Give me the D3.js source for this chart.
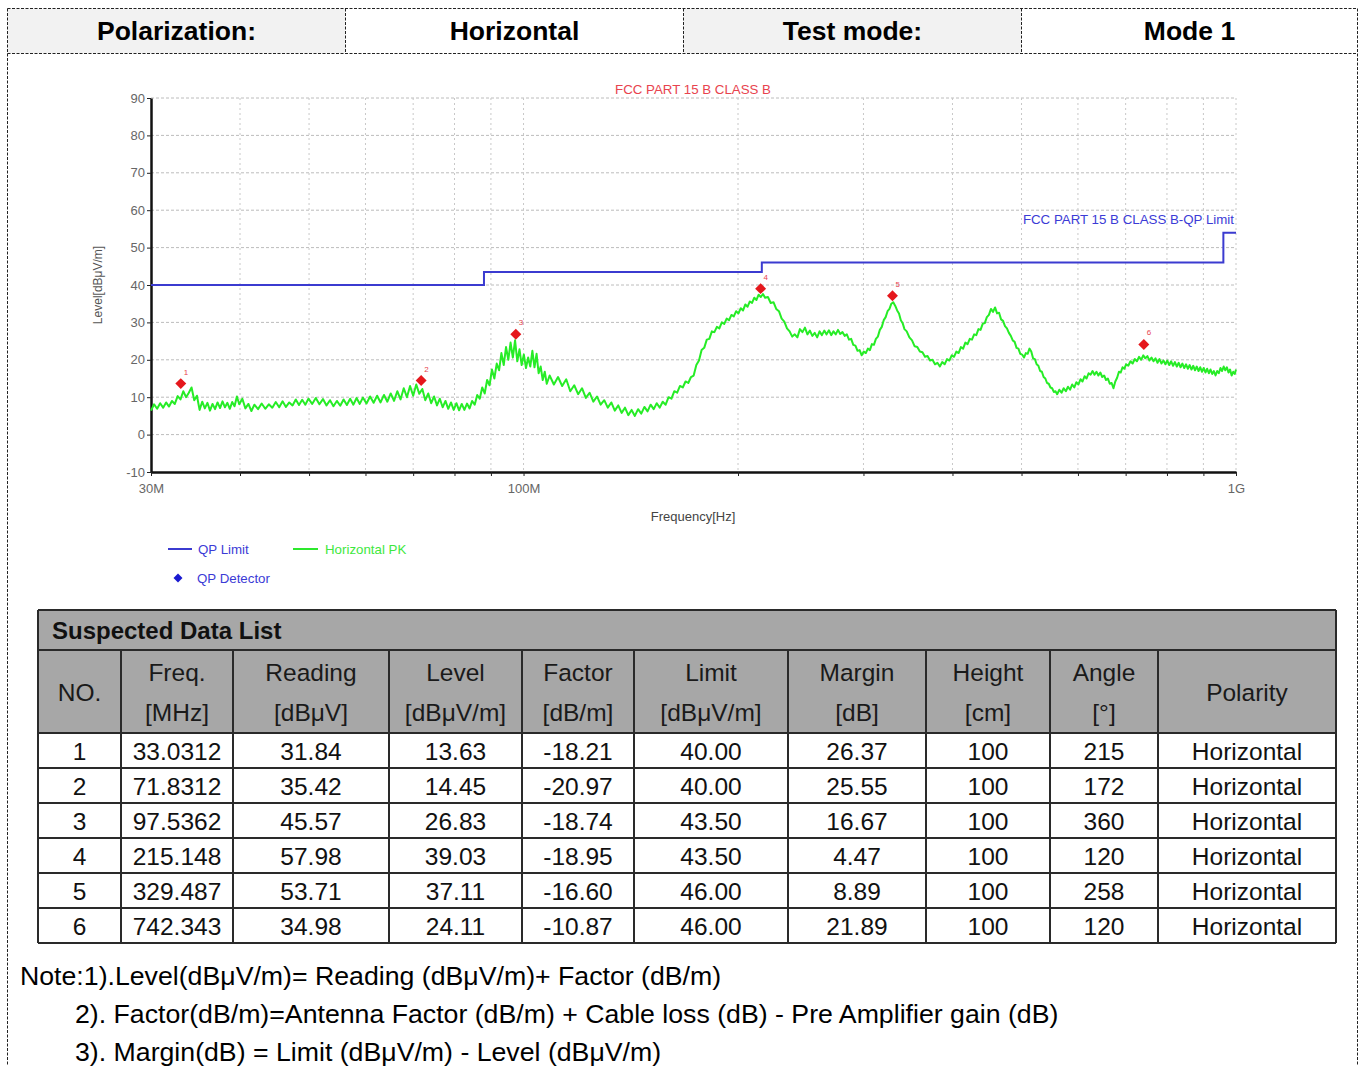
<!DOCTYPE html>
<html>
<head>
<meta charset="utf-8">
<script src="https://cdn.jsdelivr.net/npm/d3@7"></script>
<style>
  body { margin: 0; background: #fff; }
  svg { display: block; font-family: "Liberation Sans", Arial, sans-serif; }
</style>
</head>
<body>
<svg id="page" width="1364" height="1066"></svg>
<script>
// header strip
const headerCells = ["Polarization:", "Horizontal", "Test mode:", "Mode 1"];

// chart axes
const yTicks = [-10, 0, 10, 20, 30, 40, 50, 60, 70, 80, 90];
const xGridFreqs = [40, 50, 60, 70, 80, 90, 100, 200, 300, 400, 500, 600, 700, 800, 900, 1000];
const xTickFreqs = [30, 100, 1000];
const xTickLabels = ["30M", "100M", "1G"];

// QP limit (MHz, dBuV/m)
const limitFreq = [30, 88, 88, 216, 216, 960, 960, 1000];
const limitLevel = [40, 40, 43.5, 43.5, 46, 46, 54, 54];

// Horizontal PK sweep [MHz, dBuV/m]
const pkTrace = [
  [30.0,6.4],[30.3,8.1],[30.6,6.9],[30.9,8.4],[31.2,7.2],[31.5,8.6],[31.8,7.5],[32.1,9.0],[32.4,8.2],[32.7,10.3],
  [33.0,9.4],[33.3,11.6],[33.6,10.0],[33.9,11.2],[34.2,12.6],[34.5,9.2],[34.8,10.4],[35.1,6.6],[35.4,8.8],[35.7,7.0],
  [36.0,8.5],[36.3,6.4],[36.6,8.2],[36.9,6.8],[37.2,8.6],[37.5,7.1],[37.8,8.9],[38.1,7.3],[38.4,8.5],[38.7,6.9],
  [39.0,8.7],[39.3,7.6],[39.6,10.2],[39.9,8.1],[40.3,9.6],[40.7,7.0],[41.1,8.2],[41.5,6.3],[41.9,8.0],[42.4,6.8],
  [42.9,8.3],[43.4,6.9],[43.9,8.1],[44.4,7.2],[44.9,8.7],[45.4,7.3],[45.9,8.9],[46.4,7.4],[46.9,8.6],[47.4,7.8],
  [47.9,9.4],[48.4,7.9],[48.9,9.3],[49.4,8.0],[49.9,9.6],[50.5,8.2],[51.1,9.8],[51.7,8.1],[52.3,9.5],[52.9,7.8],
  [53.5,9.2],[54.1,7.6],[54.7,9.0],[55.3,7.7],[55.9,9.4],[56.5,7.9],[57.1,9.6],[57.7,8.0],[58.3,9.8],[58.9,8.2],
  [59.5,9.9],[60.2,8.3],[60.9,10.2],[61.6,8.5],[62.3,10.4],[63.0,8.6],[63.7,10.6],[64.4,8.8],[65.1,11.0],[65.8,9.0],
  [66.5,11.6],[67.2,9.4],[67.9,12.4],[68.6,10.0],[69.3,13.0],[70.0,10.4],[70.7,13.4],[71.4,10.9],[72.1,12.2],[72.8,9.2],
  [73.5,11.0],[74.2,8.4],[74.9,10.2],[75.6,7.8],[76.3,9.6],[77.0,7.3],[77.7,9.0],[78.4,6.9],[79.1,8.6],[79.8,6.6],
  [80.5,8.4],[81.2,6.5],[81.9,8.2],[82.6,6.6],[83.3,8.3],[84.0,7.0],[84.7,9.0],[85.4,8.0],[86.1,10.6],[86.8,9.6],
  [87.5,12.6],[88.2,11.0],[88.9,14.6],[89.6,13.2],[90.3,17.4],[91.0,15.0],[91.7,19.0],[92.4,17.2],[93.1,21.8],[93.8,18.6],
  [94.5,23.4],[95.2,20.0],[95.9,24.6],[96.6,20.6],[97.3,25.2],[98.0,19.6],[98.7,22.8],[99.4,18.6],[100.1,21.4],[100.8,17.8],
  [101.5,20.6],[102.2,18.2],[102.9,22.4],[103.6,18.0],[104.3,21.6],[105.0,16.4],[105.7,18.2],[106.4,14.6],[107.1,16.8],[107.8,13.6],
  [108.8,15.8],[110.3,13.4],[111.8,15.4],[113.3,13.0],[114.8,14.8],[116.3,11.6],[117.8,13.2],[119.3,10.8],[120.8,12.4],[122.3,9.8],
  [123.8,11.2],[125.3,8.8],[126.8,10.2],[128.3,8.0],[129.8,9.2],[131.3,7.2],[132.8,8.6],[134.3,6.4],[135.8,7.8],[137.3,5.8],
  [138.8,7.2],[140.3,5.2],[141.8,6.6],[143.3,5.0],[144.8,6.8],[146.3,5.6],[147.8,7.4],[149.3,6.2],[150.8,8.0],[152.3,6.8],
  [153.8,8.4],[155.3,7.2],[156.8,8.8],[158.3,8.0],[159.8,10.0],[161.3,9.6],[162.8,11.6],[164.3,11.2],[165.8,13.0],[167.3,12.6],
  [168.8,14.2],[170.3,13.8],[171.8,15.4],[173.3,15.8],[174.8,18.6],[176.3,19.8],[177.8,22.6],[179.3,23.2],[180.8,25.4],[182.3,25.6],
  [183.8,27.6],[185.3,27.4],[186.8,28.8],[188.3,28.4],[189.8,30.0],[191.3,29.6],[192.8,31.0],[194.3,30.6],[195.8,32.0],[197.3,31.6],
  [198.8,33.0],[200.3,32.4],[201.8,33.8],[203.3,33.2],[204.8,34.8],[206.3,34.2],[207.8,35.6],[209.3,35.2],[210.8,36.6],[212.3,36.0],
  [213.8,37.4],[215.3,36.8],[216.8,37.6],[218.3,36.6],[220.3,36.8],[222.3,35.2],[224.3,35.4],[226.3,33.6],[228.3,33.0],[230.3,31.0],
  [232.3,30.2],[234.3,28.4],[236.3,27.6],[238.3,26.2],[240.3,26.8],[242.3,26.0],[244.3,28.2],[246.3,27.4],[248.3,28.6],[250.3,26.8],
  [252.3,27.8],[254.3,26.4],[256.3,27.2],[258.3,26.0],[260.3,27.6],[262.3,26.6],[264.3,27.8],[266.3,26.8],[268.3,27.9],[270.3,26.6],
  [272.3,27.6],[274.3,26.8],[276.3,28.0],[278.3,26.9],[280.3,27.4],[282.3,26.4],[284.3,26.8],[286.3,25.4],[288.3,25.6],[290.3,24.0],
  [292.3,23.8],[294.3,22.4],[296.3,22.6],[298.3,21.2],[300.3,22.2],[302.3,21.8],[304.3,23.0],[306.3,22.6],[308.3,24.2],[310.3,24.0],
  [312.3,25.6],[314.3,26.2],[316.3,28.0],[318.3,28.8],[320.3,30.6],[322.3,31.4],[324.3,33.0],[326.3,33.6],[328.3,35.0],[330.3,35.4],
  [332.5,34.4],[334.5,33.2],[336.5,32.4],[338.5,30.6],[340.5,29.8],[342.5,28.2],[345,27.6],[348,26.0],[351,25.2],[354,23.6],
  [357,23.4],[360,22.2],[363,22.0],[366,20.8],[369,21.0],[372,19.8],[375,20.0],[378,18.8],[381,19.2],[384,18.2],
  [387,19.4],[390,18.8],[393,20.2],[396,19.8],[399,21.2],[402,20.8],[405,22.2],[408,21.8],[411,23.4],[414,23.0],
  [417,24.6],[420,24.2],[423,25.6],[426,25.4],[429,26.8],[432,26.6],[435,28.2],[438,28.0],[441,29.6],[444,29.8],
  [447,31.4],[450,32.0],[453,33.6],[456,32.8],[459,34.0],[462,32.4],[465,32.6],[468,30.8],[471,30.4],[474,29.0],
  [477,28.4],[480,27.2],[483,26.4],[486,25.2],[489,24.8],[492,23.2],[495,23.0],[498,21.6],[501,21.4],[504,20.6],
  [507,21.8],[510,21.6],[513,23.0],[516,22.2],[519,20.4],[522,20.2],[525,18.8],[528,18.4],[531,17.0],[534,16.8],
  [537,15.4],[540,15.0],[543,13.8],[546,13.6],[549,12.6],[552,12.4],[555,11.4],[558,11.6],[561,10.8],[565,12.0],
  [569,11.2],[573,12.4],[577,11.6],[581,12.8],[585,12.0],[589,13.4],[593,12.6],[597,14.0],[601,13.4],[605,14.8],
  [609,14.2],[613,15.6],[617,15.0],[621,16.4],[625,16.0],[629,17.0],[633,16.0],[637,16.8],[641,15.8],[645,16.6],
  [649,15.4],[653,15.8],[657,14.6],[661,15.0],[665,13.6],[669,13.8],[673,12.4],[677,14.2],[681,15.2],[685,16.8],
  [689,16.6],[693,18.0],[697,17.6],[701,18.8],[706,18.4],[711,19.6],[716,19.0],[721,20.2],[726,19.6],[731,20.8],
  [736,20.0],[741,21.2],[746,20.4],[751,21.0],[756,19.8],[761,20.6],[766,19.6],[771,20.4],[776,19.2],[781,20.2],
  [786,19.0],[791,19.8],[796,18.8],[801,19.8],[806,18.6],[811,19.6],[816,18.4],[821,19.4],[826,18.2],[831,19.2],
  [836,18.0],[841,19.0],[846,17.8],[851,18.8],[856,17.6],[861,18.6],[866,17.4],[871,18.4],[876,17.2],[881,18.2],
  [886,17.0],[891,18.0],[896,16.8],[901,17.8],[906,16.6],[911,17.6],[916,16.4],[921,17.4],[926,16.2],[931,17.0],
  [936,15.8],[941,17.0],[946,16.4],[951,17.8],[956,17.0],[961,18.2],[966,17.2],[971,18.0],[976,16.6],[981,17.4],
  [986,15.8],[991,16.8],[996,16.2],[1000,17.4]
];

// suspected data list
const markerNo = [1, 2, 3, 4, 5, 6];
const markerFreq = [33.0312, 71.8312, 97.5362, 215.148, 329.487, 742.343];
const markerReading = [31.84, 35.42, 45.57, 57.98, 53.71, 34.98];
const markerLevel = [13.63, 14.45, 26.83, 39.03, 37.11, 24.11];
const markerFactor = [-18.21, -20.97, -18.74, -18.95, -16.60, -10.87];
const markerLimit = [40.00, 40.00, 43.50, 43.50, 46.00, 46.00];
const markerMargin = [26.37, 25.55, 16.67, 4.47, 8.89, 21.89];
const markerHeight = [100, 100, 100, 100, 100, 100];
const markerAngle = [215, 172, 360, 120, 258, 120];
const markerPolarity = ["Horizontal", "Horizontal", "Horizontal", "Horizontal", "Horizontal", "Horizontal"];

const columnHeads = [["NO."], ["Freq.", "[MHz]"], ["Reading", "[dBμV]"], ["Level", "[dBμV/m]"], ["Factor", "[dB/m]"],
  ["Limit", "[dBμV/m]"], ["Margin", "[dB]"], ["Height", "[cm]"], ["Angle", "[°]"], ["Polarity"]];

const notes = [
  "Note:1).Level(dBμV/m)= Reading (dBμV/m)+ Factor (dB/m)",
  "2). Factor(dB/m)=Antenna Factor (dB/m) + Cable loss (dB) - Pre Amplifier gain (dB)",
  "3). Margin(dB) = Limit (dBμV/m) - Level (dBμV/m)"
];

const svg = d3.select('#page');
// plain hyphen for negatives, like the report
const hy = f => v => f(v).replace('\u2212', '-');

// ---- header strip ----
const headX = [7.5, 345.5, 683.5, 1021.5, 1357.5];
const dash = '3,1.5';
headerCells.forEach((t, i) => {
  svg.append('rect')
    .attr('x', headX[i]).attr('y', 8.5)
    .attr('width', headX[i + 1] - headX[i]).attr('height', 45)
    .attr('fill', i % 2 === 0 ? '#f2f2f2' : '#fff');
  svg.append('text')
    .attr('x', (headX[i] + headX[i + 1]) / 2).attr('y', 40)
    .attr('text-anchor', 'middle')
    .attr('font-size', 26.5).attr('font-weight', 'bold')
    .attr('fill', '#000')
    .text(t);
});
const frame = svg.append('g').attr('stroke', '#222').attr('stroke-width', 1).attr('stroke-dasharray', dash);
frame.append('line').attr('x1', 7.5).attr('x2', 1357.5).attr('y1', 8.5).attr('y2', 8.5);
frame.append('line').attr('x1', 7.5).attr('x2', 1357.5).attr('y1', 53.5).attr('y2', 53.5);
headX.slice(1, 4).forEach(hx => {
  frame.append('line').attr('x1', hx).attr('x2', hx).attr('y1', 8.5).attr('y2', 53.5);
});
frame.append('line').attr('x1', 7.5).attr('x2', 7.5).attr('y1', 8.5).attr('y2', 1066);
frame.append('line').attr('x1', 1357.5).attr('x2', 1357.5).attr('y1', 8.5).attr('y2', 1066);

// ---- chart ----
const x = d3.scaleLog().domain([30, 1000]).range([151, 1236]);
const y = d3.scaleLinear().domain([-10, 90]).range([472, 98]);

const grid = svg.append('g');
grid.selectAll('.hgrid')
  .data(yTicks.filter(v => v > -10))
  .enter().append('line')
  .attr('x1', x(30)).attr('x2', x(1000))
  .attr('y1', d => y(d)).attr('y2', d => y(d))
  .attr('stroke', '#bcbcbc').attr('stroke-dasharray', '3,2');
grid.selectAll('.vgrid')
  .data(xGridFreqs)
  .enter().append('line')
  .attr('x1', d => x(d)).attr('x2', d => x(d))
  .attr('y1', y(90)).attr('y2', y(-10))
  .attr('stroke', '#c8c8c8').attr('stroke-dasharray', '2,3');

const yAxis = svg.append('g')
  .attr('transform', `translate(${x(30)},0)`)
  .call(d3.axisLeft(y).tickValues(yTicks).tickSize(4).tickSizeOuter(0).tickPadding(2)
    .tickFormat(hy(d3.format('d'))));

const tickLabel = new Map(xTickFreqs.map((f, i) => [f, xTickLabels[i]]));
const xAxis = svg.append('g')
  .attr('transform', `translate(0,${y(-10)})`)
  .call(d3.axisBottom(x).tickValues([30].concat(xGridFreqs)).tickSize(4).tickSizeOuter(0).tickPadding(8)
    .tickFormat(d => tickLabel.get(d) || ''));

[yAxis, xAxis].forEach(g => {
  g.select('.domain').attr('stroke', '#111').attr('stroke-width', 2.5);
  g.selectAll('.tick line').attr('stroke', '#222');
  g.selectAll('text').attr('fill', '#666').attr('font-size', 13)
    .attr('font-family', '"Liberation Sans", Arial, sans-serif');
});

svg.append('text')
  .attr('x', 693).attr('y', 94).attr('text-anchor', 'middle')
  .attr('font-size', 13.3).attr('fill', '#e8434e')
  .text('FCC PART 15 B CLASS B');
svg.append('text')
  .attr('x', 1234).attr('y', 224).attr('text-anchor', 'end')
  .attr('font-size', 13.3).attr('fill', '#3b3bd6')
  .text('FCC PART 15 B CLASS B-QP Limit');
svg.append('text')
  .attr('transform', 'translate(102,285) rotate(-90)')
  .attr('text-anchor', 'middle').attr('font-size', 12).attr('fill', '#555')
  .text('Level[dBμV/m]');
svg.append('text')
  .attr('x', 693).attr('y', 521).attr('text-anchor', 'middle')
  .attr('font-size', 13).attr('fill', '#444')
  .text('Frequency[Hz]');

// traces
const line = d3.line().x(d => x(d[0])).y(d => y(d[1]));
svg.append('path')
  .datum(pkTrace)
  .attr('d', line)
  .attr('fill', 'none').attr('stroke', '#26ec26').attr('stroke-width', 2)
  .attr('stroke-linejoin', 'round');

svg.append('path')
  .datum(limitFreq.map((f, i) => [f, limitLevel[i]]))
  .attr('d', line)
  .attr('fill', 'none').attr('stroke', '#3b3bd0').attr('stroke-width', 2);

// QP detector marks
const marks = markerNo.map((n, i) => ({ n, f: markerFreq[i], v: markerLevel[i] }));
const diamond = d3.symbol(d3.symbolSquare, 60);
svg.selectAll('.qp')
  .data(marks)
  .enter().append('path')
  .attr('d', diamond)
  .attr('transform', d => `translate(${x(d.f)},${y(d.v)}) rotate(45)`)
  .attr('fill', '#e5171c');
svg.selectAll('.qpnum')
  .data(marks)
  .enter().append('text')
  .attr('x', d => x(d.f) + 3).attr('y', d => y(d.v) - 9)
  .attr('font-size', 8).attr('fill', '#e8434e')
  .text(d => d.n);

// legend
const legend = svg.append('g').attr('font-size', 13.3);
legend.append('line').attr('x1', 168).attr('x2', 192).attr('y1', 549).attr('y2', 549)
  .attr('stroke', '#3b3bd0').attr('stroke-width', 2);
legend.append('text').attr('x', 198).attr('y', 554).attr('fill', '#3b3bd6').text('QP Limit');
legend.append('line').attr('x1', 293).attr('x2', 318).attr('y1', 549).attr('y2', 549)
  .attr('stroke', '#2de82d').attr('stroke-width', 2);
legend.append('text').attr('x', 325).attr('y', 554).attr('fill', '#3ee83e').text('Horizontal PK');
legend.append('path').attr('d', d3.symbol(d3.symbolSquare, 40))
  .attr('transform', 'translate(178,578) rotate(45)').attr('fill', '#1a1ad0');
legend.append('text').attr('x', 197).attr('y', 583).attr('fill', '#3b3bd6').text('QP Detector');

// ---- suspected data list ----
const colX = [38, 121, 233, 389, 522, 634, 788, 926, 1050, 1158, 1336];
const tTop = 610, titleH = 40, headH = 83, rowH = 35;
const table = svg.append('g');
table.append('rect').attr('x', colX[0]).attr('y', tTop).attr('width', colX[10] - colX[0]).attr('height', titleH + headH)
  .attr('fill', '#a7a7a7');
table.append('text').attr('x', 52).attr('y', tTop + 29)
  .attr('font-size', 24).attr('font-weight', 'bold').attr('fill', '#111')
  .text('Suspected Data List');

columnHeads.forEach((h, i) => {
  const cx = (colX[i] + colX[i + 1]) / 2;
  const t = table.append('text').attr('text-anchor', 'middle').attr('font-size', 24.5).attr('fill', '#1a1a1a');
  if (h.length === 1) {
    t.attr('x', cx).attr('y', tTop + titleH + 51).text(h[0]);
  } else {
    t.append('tspan').attr('x', cx).attr('y', tTop + titleH + 31).text(h[0]);
    t.append('tspan').attr('x', cx).attr('y', tTop + titleH + 71).text(h[1]);
  }
});

const fmt2 = hy(d3.format('.2f'));
const rows = markerNo.map((n, i) => [
  n, d3.format('.6r')(markerFreq[i]), fmt2(markerReading[i]), fmt2(markerLevel[i]), fmt2(markerFactor[i]),
  fmt2(markerLimit[i]), fmt2(markerMargin[i]), markerHeight[i], markerAngle[i], markerPolarity[i]
]);
const bodyTop = tTop + titleH + headH;
rows.forEach((r, ri) => {
  r.forEach((c, ci) => {
    table.append('text')
      .attr('x', (colX[ci] + colX[ci + 1]) / 2).attr('y', bodyTop + ri * rowH + 27)
      .attr('text-anchor', 'middle').attr('font-size', 24.5).attr('fill', '#111')
      .text(c);
  });
});

const tBottom = bodyTop + rows.length * rowH;
const rules = table.append('g').attr('stroke', '#2a2a2a').attr('stroke-width', 2);
[tTop, tTop + titleH, bodyTop].concat(d3.range(1, rows.length + 1).map(k => bodyTop + k * rowH)).forEach(ry => {
  rules.append('line').attr('x1', colX[0]).attr('x2', colX[10]).attr('y1', ry).attr('y2', ry);
});
colX.forEach((cx, i) => {
  rules.append('line').attr('x1', cx).attr('x2', cx)
    .attr('y1', i === 0 || i === 10 ? tTop : tTop + titleH).attr('y2', tBottom);
});

// ---- notes ----
const noteX = [20, 75, 75];
const noteY = [985, 1023, 1061];
notes.forEach((t, i) => {
  svg.append('text').attr('x', noteX[i]).attr('y', noteY[i])
    .attr('font-size', 26.7).attr('fill', '#000').text(t);
});
</script>
</body>
</html>
